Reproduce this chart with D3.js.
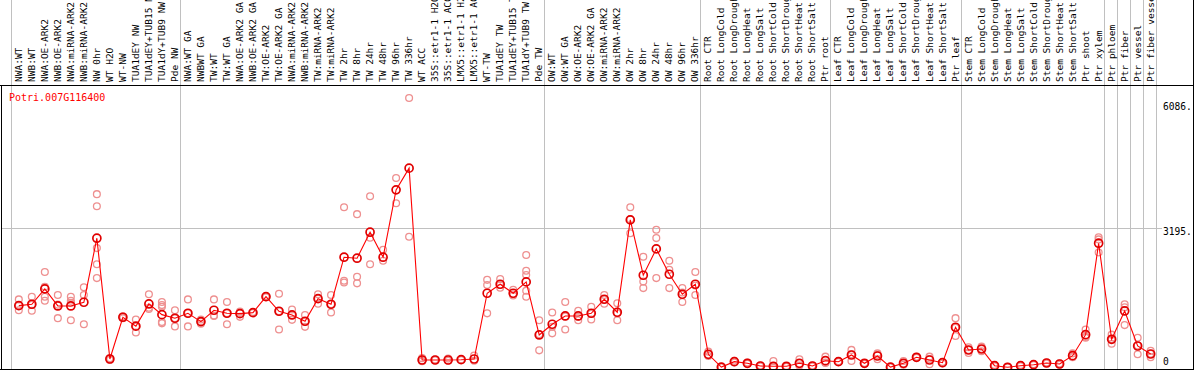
<!DOCTYPE html>
<html>
<head>
<meta charset="utf-8">
<script src="https://cdn.jsdelivr.net/npm/d3@7/dist/d3.min.js"></script>
<style>
  html, body { margin: 0; padding: 0; background: #fff; }
  svg { display: block; }
  text { font-family: "DejaVu Sans Mono", monospace; }
</style>
</head>
<body>
<svg id="chart"></svg>
<script>
const geneName = "Potri.007G116400";

const categories = [
  "NWA:WT", "NWB:WT", "NWA:OE-ARK2", "NWB:OE-ARK2", "NWA:miRNA-ARK2", "NWB:miRNA-ARK2", "NW 0hr", "WT H2O", "WT-NW",
  "TUA1dEY NW", "TUA1dEY+TUB15 NW", "TUA1dY+TUB9 NW", "Pde NW",
  "NWA:WT GA", "NWBWT GA", "TW:WT", "TW:WT GA", "NWA:OE-ARK2 GA", "NWB:OE-ARK2 GA", "TW:OE-ARK2", "TW:OE-ARK2 GA",
  "NWA:miRNA-ARK2 GA", "NWB:miRNA-ARK2 GA", "TW:miRNA-ARK2", "TW:miRNA-ARK2", "TW 2hr", "TW 8hr", "TW 24hr", "TW 48hr",
  "TW 96hr", "TW 336hr", "WT ACC", "35S::etr1-1 H2O", "35S::etr1-1 ACC", "LMX5::etr1-1 H2O", "LMX5::etr1-1 ACC",
  "WT-TW", "TUA1dEY TW", "TUA1dEY+TUB15 TW", "TUA1dY+TUB9 TW", "Pde TW",
  "OW:WT", "OW:WT GA", "OW:OE-ARK2", "OW:OE-ARK2 GA", "OW:miRNA-ARK2", "OW:miRNA-ARK2", "OW 2hr", "OW 8hr", "OW 24hr",
  "OW 48hr", "OW 96hr", "OW 336hr",
  "Root CTR", "Root LongCold", "Root LongDrought", "Root LongHeat", "Root LongSalt", "Root ShortCold", "Root ShortDrought",
  "Root ShortHeat", "Root ShortSalt", "Ptr root",
  "Leaf CTR", "Leaf LongCold", "Leaf LongDrought", "Leaf LongHeat", "Leaf LongSalt", "Leaf ShortCold", "Leaf ShortDrought",
  "Leaf ShortHeat", "Leaf ShortSalt", "Ptr leaf",
  "Stem CTR", "Stem LongCold", "Stem LongDrought", "Stem LongHeat", "Stem LongSalt", "Stem ShortCold", "Stem ShortDrought",
  "Stem ShortHeat", "Stem ShortSalt", "Ptr shoot", "Ptr xylem",
  "Ptr phloem", "Ptr fiber", "Ptr vessel", "Ptr fiber vessel"
];

// number of samples in each block between the grey separators
const groupSizes = [13, 28, 12, 10, 10, 11, 1, 1, 1, 1];

const means = [
  1417, 1449, 1801, 1410, 1410, 1495, 2967, 191, 1150, 945, 1456, 1210, 1127,
  1242, 1049, 1311, 1242, 1233, 1256, 1624, 1288, 1203, 1058, 1578, 1449, 2530, 2507, 3105, 2530,
  4078, 4577, 168, 168, 168, 175, 191, 1702, 1909, 1702, 1962, 743,
  989, 1180, 1180, 1242, 1564, 1265, 3388, 2116, 2721, 2139, 1679, 1909,
  299, 5, 129, 92, 30, 23, 23, 92, 30, 152,
  129, 283, 92, 260, 5, 92, 230, 168, 106, 920,
  398, 421, 37, 0, 37, 60, 99, 76, 267, 750, 2852,
  644, 1295, 490, 306
];

const replicates = [
  [1560, 1420, 1310], [1620, 1440, 1300], [2190, 1850, 1620, 1530], [1660, 1440, 1130], [1620, 1530, 1480, 1080],
  [1840, 1660, 990], [3980, 3700, 2740, 2370, 2050], [210, 190, 170], [1170, 1150, 1130], [1100, 940, 800],
  [1680, 1370, 1340], [1500, 1430, 1390, 1040, 1010], [1310, 1130, 940],
  [1560, 1240, 940], [1100, 1050, 1000], [1560, 1190, 1180], [1500, 1240, 990], [1280, 1250, 1160], [1270, 1250],
  [1640, 1610], [1690, 1290, 870], [1330, 1200, 1090], [1200, 1050, 930], [1680, 1580, 1460], [1660, 1450, 1260],
  [3680, 1990, 1950], [3520, 2080, 1930], [3930, 2980, 2370], [2700, 2450], [4350, 3770], [6190, 3000],
  [210, 150, 140], [180, 160], [200, 150], [180, 170], [270, 150], [2010, 1890, 1240], [2030, 1890, 1830],
  [1780, 1680, 1650], [2580, 2220, 2120, 1760, 1620], [1080, 760, 390],
  [1260, 930, 780], [1500, 1170, 870], [1300, 1160, 1080], [1390, 1230, 1100], [1660, 1560, 1460], [1470, 1240, 1080],
  [3680, 3400, 3080], [2540, 1970, 1820], [3160, 2970, 2050], [2450, 2240, 1820], [1820, 1720, 1500], [2190, 1880, 1660],
  [360, 260], [10, 0], [150, 110], [110, 80], [40, 20], [145, 0], [30, 15], [185, 40], [40, 20], [245, 110, 100],
  [140, 120], [400, 300, 145], [100, 80], [320, 280, 185], [10, 0], [145, 60], [240, 220], [245, 190, 70], [120, 90],
  [1130, 910, 720],
  [460, 400, 330], [475, 420, 370], [50, 25], [10, 0], [50, 25], [70, 50], [110, 90], [90, 60], [320, 250, 230],
  [870, 700, 680], [2990, 2940, 2640],
  [750, 650, 540], [1450, 1380, 970], [680, 500, 300], [380, 310, 230]
];

const yTicks = [0, 3195, 6086];
const gridValues = [3195];

const W = 1194, H = 370;
const plotTop = 85, plotBottom = 369, plotLeft = 1, plotRight = 1193;

const svg = d3.select("#chart").attr("width", W).attr("height", H);

const x = d3.scaleBand()
  .domain(d3.range(categories.length))
  .range([12.3, 12.3 + categories.length * 13.01]);
const cx = i => x(i) + x.bandwidth() / 2;

const y = d3.scaleLinear()
  .domain([0, 6086])
  .range([367.3, 102.5]);

// group separators (grey, full height)
let starts = [0];
groupSizes.forEach(s => starts.push(starts[starts.length - 1] + s));
const sepX = starts.map((s, k) => k < groupSizes.length ? cx(s) - 8 : cx(s - 1) + 5);

svg.append("g")
  .selectAll("line")
  .data(sepX)
  .enter()
  .append("line")
    .attr("x1", d => Math.round(d) + 0.5)
    .attr("x2", d => Math.round(d) + 0.5)
    .attr("y1", 0)
    .attr("y2", plotBottom)
    .attr("stroke", "#c0c0c0")
    .attr("stroke-width", 1);

// horizontal grid
svg.append("g")
  .selectAll("line")
  .data(gridValues)
  .enter()
  .append("line")
    .attr("x1", plotLeft)
    .attr("x2", 1162)
    .attr("y1", d => Math.round(y(d)) + 0.5)
    .attr("y2", d => Math.round(y(d)) + 0.5)
    .attr("stroke", "#c0c0c0")
    .attr("stroke-width", 1);

// sample labels, rotated
svg.append("g")
  .selectAll("text")
  .data(categories)
  .enter()
  .append("text")
    .attr("transform", (d, i) => "translate(" + (cx(i) + 3) + ",82) rotate(-90)")
    .attr("font-size", "9.5px")
    .attr("fill", "#000")
    .text(d => d);

// right axis
const axis = svg.append("g")
  .attr("transform", "translate(1163,0)")
  .call(d3.axisRight(y)
    .tickValues(yTicks)
    .tickSize(0)
    .tickPadding(0)
    .tickFormat(d => d === 0 ? "0" : d + "."));
axis.select(".domain").remove();
axis.selectAll("text")
  .attr("dy", null)
  .attr("x", 0)
  .attr("y", d => Math.min(6.7, 364 - y(d)))
  .attr("font-size", "9.6px")
  .attr("font-family", "DejaVu Sans Mono, monospace")
  .attr("fill", "#000");

// data
svg.append("clipPath").attr("id", "plotClip")
  .append("rect")
    .attr("x", plotLeft).attr("y", plotTop)
    .attr("width", plotRight - plotLeft).attr("height", plotBottom - plotTop);

const plot = svg.append("g").attr("clip-path", "url(#plotClip)");

const reps = [];
replicates.forEach((arr, i) => arr.forEach(v => reps.push({ i: i, v: v })));

plot.append("g")
  .selectAll("circle")
  .data(reps)
  .enter()
  .append("circle")
    .attr("cx", d => cx(d.i))
    .attr("cy", d => y(d.v))
    .attr("r", 3.4)
    .attr("fill", "none")
    .attr("stroke", "#ee9090")
    .attr("stroke-width", 1.3);

plot.append("path")
  .datum(means)
  .attr("fill", "none")
  .attr("stroke", "#ff0000")
  .attr("stroke-width", 1.1)
  .attr("d", d3.line().x((d, i) => cx(i)).y(d => y(d)));

plot.append("g")
  .selectAll("circle")
  .data(means)
  .enter()
  .append("circle")
    .attr("cx", (d, i) => cx(i))
    .attr("cy", d => y(d))
    .attr("r", 4)
    .attr("fill", "none")
    .attr("stroke", "#e00000")
    .attr("stroke-width", 1.7);

// frame
const frame = svg.append("g").attr("stroke", "#000").attr("stroke-width", 1).attr("shape-rendering", "crispEdges");
frame.append("line").attr("x1", 0).attr("x2", W).attr("y1", plotTop + 0.5).attr("y2", plotTop + 0.5);
frame.append("line").attr("x1", 0).attr("x2", W).attr("y1", plotBottom + 0.5).attr("y2", plotBottom + 0.5);
frame.append("line").attr("x1", plotLeft + 0.5).attr("x2", plotLeft + 0.5).attr("y1", plotTop).attr("y2", plotBottom);
frame.append("line").attr("x1", plotRight + 0.5).attr("x2", plotRight + 0.5).attr("y1", 0).attr("y2", H);

svg.append("text")
  .attr("x", 9)
  .attr("y", 100.5)
  .attr("font-size", "10px")
  .attr("fill", "#ff0000")
  .text(geneName);
</script>
</body>
</html>
